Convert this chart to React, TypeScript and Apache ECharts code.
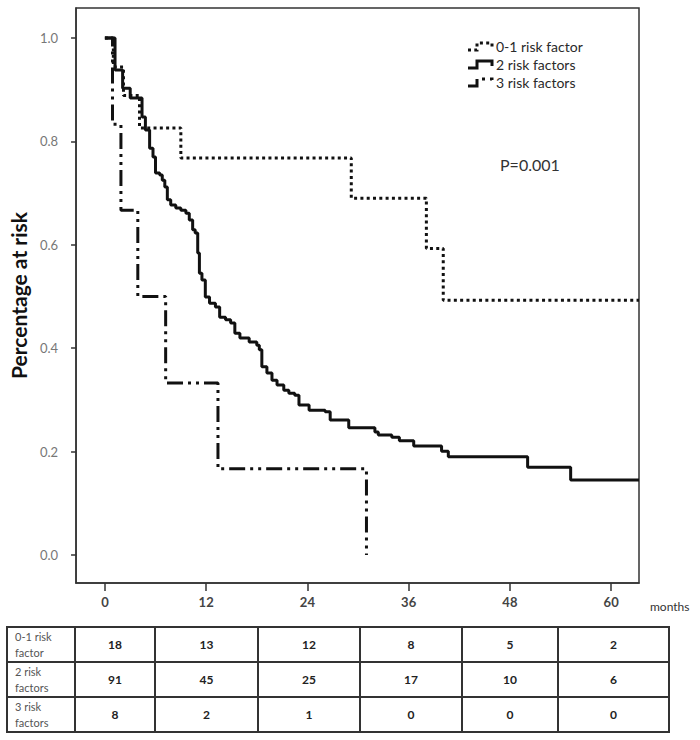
import React, { useEffect, useRef } from "react";
import * as echarts from "echarts";

// Kaplan-Meier step data (months, proportion still at risk)
const months01 = [0, 1.0, 2.2, 4.1, 9.0, 29.2, 38.1, 40.1, 63.3];
const surv01 = [1.0, 0.944, 0.889, 0.826, 0.768, 0.69, 0.593, 0.493, 0.493];

const months2 = [0, 1.2, 2.1, 3.0, 4.4, 4.8, 5.3, 5.7, 6.0, 6.5, 6.8, 7.1, 7.4, 7.8, 8.4, 9.0, 9.6, 10.0, 10.4, 10.7,
  11.0, 11.2, 11.5, 11.9, 12.4, 13.1, 13.6, 14.3, 14.9, 15.4, 16.0, 17.1, 18.0, 18.3, 18.6, 19.2, 19.8, 20.4, 21.2, 21.8,
  22.5, 23.0, 24.2, 26.1, 26.7, 28.9, 32.0, 32.4, 34.0, 34.9, 36.6, 39.9, 40.7, 50.1, 55.2, 63.3];
const surv2 = [1.0, 0.938, 0.903, 0.884, 0.847, 0.822, 0.787, 0.770, 0.739, 0.735, 0.725, 0.712, 0.687, 0.677, 0.671, 0.667, 0.661, 0.648, 0.629, 0.623,
  0.584, 0.545, 0.532, 0.499, 0.487, 0.480, 0.460, 0.455, 0.449, 0.429, 0.420, 0.412, 0.406, 0.397, 0.364, 0.352, 0.338, 0.329, 0.319, 0.313,
  0.309, 0.290, 0.280, 0.277, 0.261, 0.246, 0.238, 0.232, 0.228, 0.221, 0.211, 0.201, 0.190, 0.170, 0.145, 0.145];

const months3 = [0, 0.9, 1.9, 3.9, 7.2, 13.4, 31.0];
const surv3 = [1.0, 0.833, 0.667, 0.5, 0.333, 0.167, 0.0];

const seriesNames = ["0-1 risk factor", "2 risk factors", "3 risk factors"];
const xTicks = [0, 12, 24, 36, 48, 60];
const yTicks = [0, 0.2, 0.4, 0.6, 0.8, 1.0];

const tableRowLabels = ["0-1 risk\nfactor", "2 risk\nfactors", "3 risk\nfactors"];
const atRisk01 = [18, 13, 12, 8, 5, 2];
const atRisk2 = [91, 45, 25, 17, 10, 6];
const atRisk3 = [8, 2, 1, 0, 0, 0];
const pValueText = "P=0.001";

const FONT = "Lato, 'Open Sans', sans-serif";
const DOT: number[] = [3, 3.3];
const DASHDOT: number[] = [16, 5, 3, 5, 3, 5];

function zip(a: number[], b: number[]) {
  return a.map((v, i) => [v, b[i]]);
}

export default function App() {
  const ref = useRef<HTMLDivElement>(null);
  useEffect(() => {
    document.body.style.margin = "0";
    const chart = echarts.init(ref.current!, null, { renderer: "svg" });

    const styles = [
      { type: DOT, width: 3, color: "#111" },
      { type: "solid", width: 3, color: "#111" },
      { type: DASHDOT, width: 3, color: "#111" },
    ];

    // legend (custom stair icons)
    const legendX = 468;
    const legendRowsY = [46, 64, 82];
    const legendEls: any[] = [];
    legendRowsY.forEach((y, i) => {
      legendEls.push({
        type: "polyline",
        shape: { points: [[legendX, y + 4], [legendX + 9, y + 4], [legendX + 9, y - 3], [legendX + 24, y - 3], [legendX + 24, y + 2]] },
        style: { stroke: "#111", lineWidth: 3, fill: "none", lineDash: styles[i].type === "solid" ? null : styles[i].type },
      });
      legendEls.push({
        type: "text",
        x: legendX + 28,
        y,
        style: { text: seriesNames[i], font: `14px ${FONT}`, fill: "#2a2a2a", textVerticalAlign: "middle", textAlign: "left" },
      });
    });

    // at-risk table
    const tLeft = 7, tRight = 669, tTop = 627, tBottom = 732;
    const colX = [7, 75, 155, 258, 360, 462, 558, 669];
    const rowY = [627, 662, 697, 732];
    const tableEls: any[] = [];
    tableEls.push({ type: "rect", shape: { x: tLeft, y: tTop, width: tRight - tLeft, height: tBottom - tTop }, style: { fill: "none", stroke: "#333", lineWidth: 2 } });
    for (let i = 1; i < colX.length - 1; i++) {
      tableEls.push({ type: "line", shape: { x1: colX[i], y1: tTop, x2: colX[i], y2: tBottom }, style: { stroke: "#333", lineWidth: 2 } });
    }
    for (let i = 1; i < rowY.length - 1; i++) {
      tableEls.push({ type: "line", shape: { x1: tLeft, y1: rowY[i], x2: tRight, y2: rowY[i] }, style: { stroke: "#333", lineWidth: 2 } });
    }
    const rows = [atRisk01, atRisk2, atRisk3];
    rows.forEach((vals, r) => {
      const cy = (rowY[r] + rowY[r + 1]) / 2;
      tableEls.push({
        type: "text", x: 15, y: cy,
        style: { text: tableRowLabels[r], font: `11px ${FONT}`, fill: "#555", textVerticalAlign: "middle", textAlign: "left", lineHeight: 16 },
      });
      vals.forEach((v, c) => {
        tableEls.push({
          type: "text", x: (colX[c + 1] + colX[c + 2]) / 2, y: cy,
          style: { text: String(v), font: `bold 12px ${FONT}`, fill: "#222", textAlign: "center", textVerticalAlign: "middle" },
        });
      });
    });

    chart.setOption({
      animation: false,
      grid: { left: 73, right: 61, top: 8, bottom: 157, show: true, borderColor: "#333", borderWidth: 1.5, backgroundColor: "transparent" },
      xAxis: {
        type: "value", min: -3.42, max: 63.3,
        name: "months", nameLocation: "end", nameGap: 11,
        nameTextStyle: { fontFamily: FONT, fontSize: 12, color: "#333", verticalAlign: "top", lineHeight: 46 },
        axisLine: { show: true, onZero: false, lineStyle: { color: "#333", width: 1.5 } },
        axisTick: { show: true, length: 8, customValues: xTicks, lineStyle: { color: "#333", width: 1.5 } },
        axisLabel: { customValues: xTicks, margin: 12, fontFamily: FONT, fontSize: 13, color: "#444", fontWeight: "bold" },
        splitLine: { show: false },
      },
      yAxis: {
        type: "value", min: -0.054, max: 1.058,
        name: "Percentage at risk", nameLocation: "middle", nameGap: 41, nameRotate: 90,
        nameTextStyle: { fontFamily: FONT, fontSize: 21, fontWeight: "bold", color: "#111" },
        axisLine: { show: true, onZero: false, lineStyle: { color: "#333", width: 1.5 } },
        axisTick: { show: true, length: 5, customValues: yTicks, lineStyle: { color: "#333", width: 1.5 } },
        axisLabel: { customValues: yTicks, margin: 18, fontFamily: FONT, fontSize: 13, color: "#777", formatter: (v: number) => v.toFixed(1) },
        splitLine: { show: false },
      },
      series: [
        { name: seriesNames[0], type: "line", step: "end", data: zip(months01, surv01), showSymbol: false, lineStyle: styles[0] as any, z: 2 },
        { name: seriesNames[2], type: "line", step: "end", data: zip(months3, surv3), showSymbol: false, lineStyle: styles[2] as any, z: 3 },
        { name: seriesNames[1], type: "line", step: "end", data: zip(months2, surv2), showSymbol: false, lineStyle: styles[1] as any, z: 4 },
      ],
      graphic: [
        ...legendEls,
        { type: "text", x: 500, y: 164, style: { text: pValueText, font: `16px ${FONT}`, fill: "#333", textVerticalAlign: "middle" } },
        ...tableEls,
      ],
    });
    return () => chart.dispose();
  }, []);
  return <div ref={ref} style={{ width: 700, height: 740 }} />;
}
